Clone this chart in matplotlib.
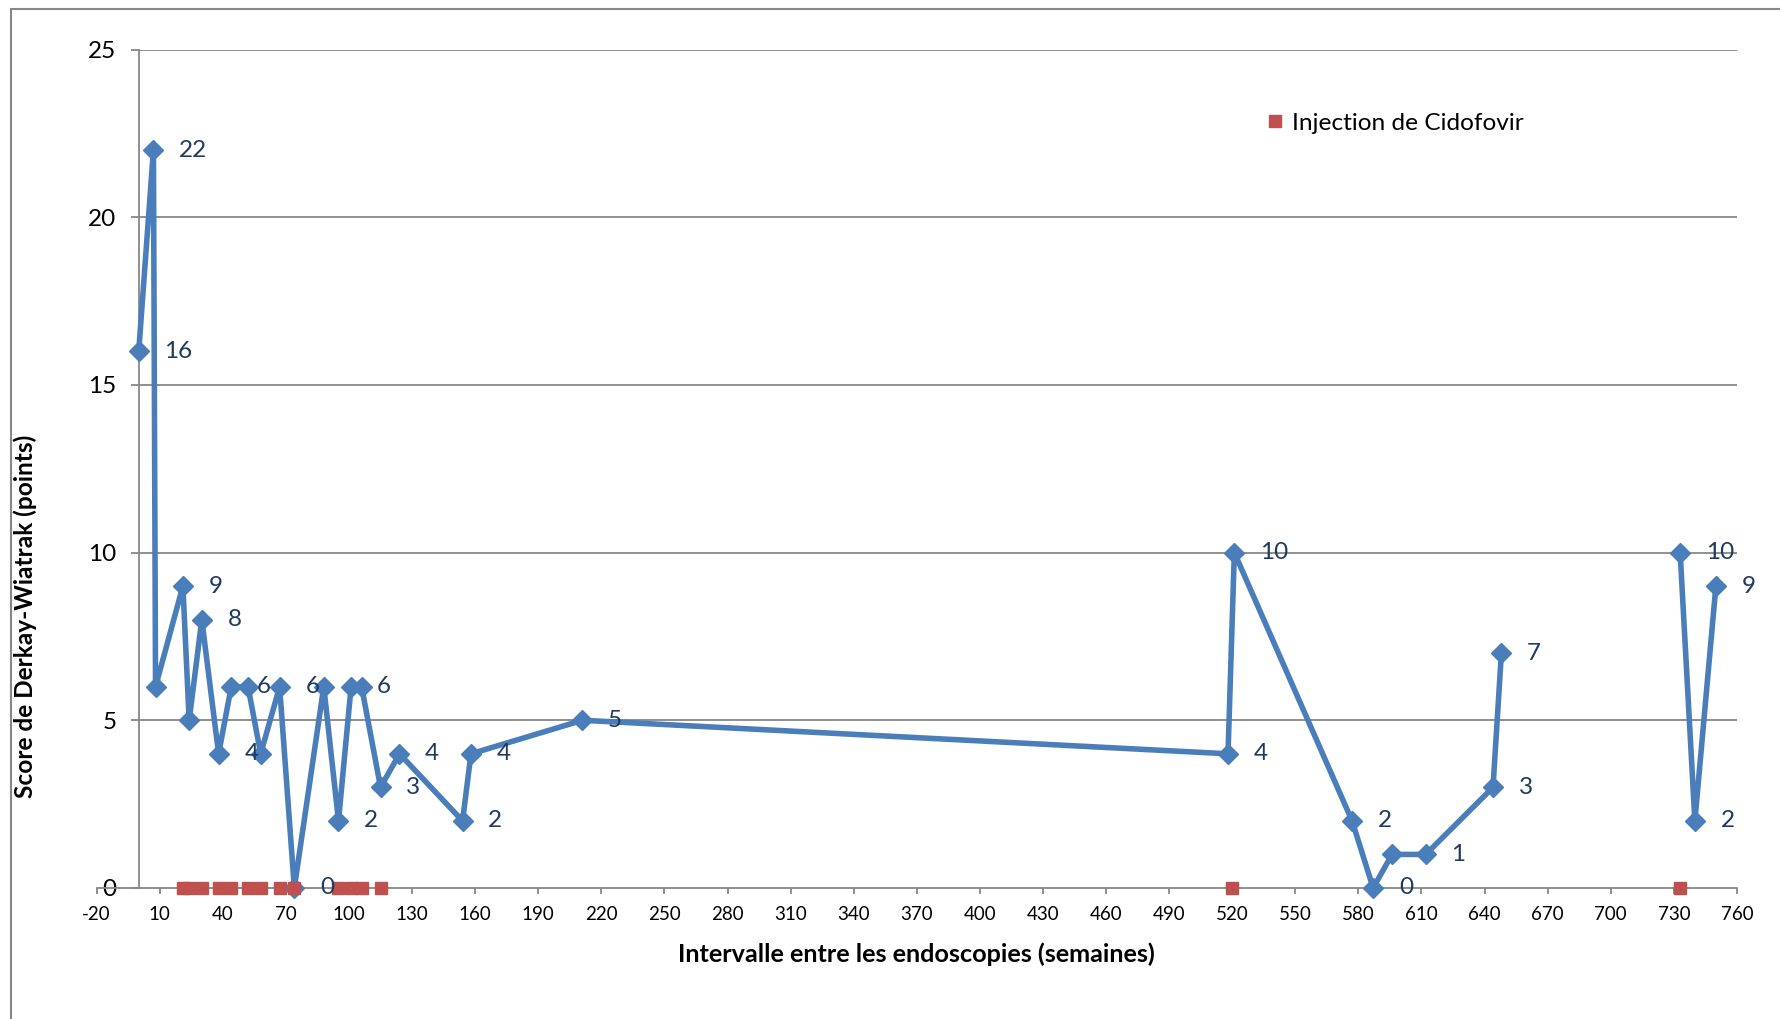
import matplotlib.pyplot as plt
from matplotlib.patches import Rectangle

plt.rcParams['font.family'] = ['Lato', 'DejaVu Sans']
plt.rcParams['axes.unicode_minus'] = False

# endoscopies : semaine, score
weeks = [0, 7, 8, 21, 24, 30, 38, 44, 52, 58, 67, 74, 88, 95, 101, 106, 115, 124,
         154, 158, 211, 518, 521, 577, 587, 596, 612, 644, 648,
         733, 740, 750]
scores = [16, 22, 6, 9, 5, 8, 4, 6, 6, 4, 6, 0, 6, 2, 6, 6, 3, 4,
          2, 4, 5, 4, 10, 2, 0, 1, 1, 3, 7,
          10, 2, 9]
# la courbe est interrompue apres la 29e endoscopie
first_part = 29

# injections de cidofovir
injection_weeks = [21, 24, 30, 38, 44, 52, 58, 67, 74, 95, 101, 106, 115, 520, 733]
injection_values = [0] * len(injection_weeks)

# points qui ont une etiquette
labelled = [0, 1, 3, 5, 6, 7, 10, 11, 13, 14, 16, 17, 18, 19, 20, 21, 22, 23, 24,
            26, 27, 28, 29, 30, 31]

x_ticks = list(range(-20, 761, 30))
y_ticks = [0, 5, 10, 15, 20, 25]

blue = '#4A7EBB'
red = '#C0504D'
grey = '#878787'
label_color = '#1F3A60'

fig = plt.figure(figsize=(17.8, 10.19), dpi=100)
ax = fig.add_axes([0.0543, 0.1286, 0.9215, 0.8228])

for y in y_ticks[1:]:
    ax.plot([0, 760], [y, y], color=grey, lw=1.3, zorder=1)

ax.plot(weeks[:first_part], scores[:first_part], color=blue, lw=4, marker='D',
        markersize=10, zorder=3, clip_on=False)
ax.plot(weeks[first_part:], scores[first_part:], color=blue, lw=4, marker='D',
        markersize=10, zorder=3, clip_on=False)
ax.plot(injection_weeks, injection_values, linestyle='none', marker='s', markersize=8.5,
        color=red, zorder=4, clip_on=False, label='Injection de Cidofovir')

for i in labelled:
    ax.annotate(str(scores[i]), (weeks[i], scores[i]), xytext=(18.5, 0),
                textcoords='offset points', ha='left', va='center',
                fontsize=17.5, color=label_color, zorder=5)

ax.set_xlim(-20, 760)
ax.set_ylim(0, 25)
ax.set_xticks(x_ticks)
ax.set_yticks(y_ticks)
ax.tick_params(axis='x', labelsize=13.5, length=4, width=1.3, color=grey, pad=9)
ax.tick_params(axis='y', labelsize=17.5, length=6, width=1.3, color=grey, pad=10)

ax.spines['left'].set_position(('data', 0))
for side in ['top', 'right']:
    ax.spines[side].set_visible(False)
for side in ['left', 'bottom']:
    ax.spines[side].set_color(grey)
    ax.spines[side].set_linewidth(1.3)

ax.set_xlabel('Intervalle entre les endoscopies (semaines)', fontsize=18.2, fontweight='bold')
ax.xaxis.set_label_coords(0.5, -0.0655)
ax.set_ylabel('Score de Derkay-Wiatrak (points)', fontsize=17.6, fontweight='bold')
ax.yaxis.set_label_coords(-0.0364, 0.324)

ax.legend(loc='center left', bbox_to_anchor=(0.708, 0.879), frameon=False,
          fontsize=17.6, handletextpad=0.1, handlelength=1.2, borderaxespad=0,
          borderpad=0, bbox_transform=fig.transFigure)

fig.patches.append(Rectangle((11 / 1780, -0.1), 1.2, 1.1 - 9 / 1019,
                             transform=fig.transFigure, fill=False,
                             edgecolor=grey, lw=1.5))

fig.savefig('out.png', dpi=100)
